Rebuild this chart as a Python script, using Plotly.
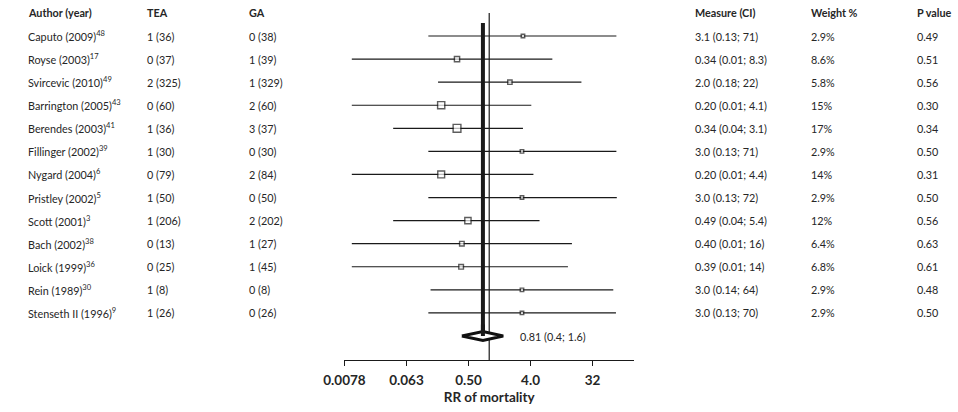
import math
import plotly.graph_objects as go

# ---------------- data ----------------
authors = ["Caputo (2009)", "Royse (2003)", "Svircevic (2010)", "Barrington (2005)",
           "Berendes (2003)", "Fillinger (2002)", "Nygard (2004)", "Pristley (2002)",
           "Scott (2001)", "Bach (2002)", "Loick (1999)", "Rein (1989)", "Stenseth II (1996)"]
refs = ["48", "17", "49", "43", "41", "39", "6", "5", "3", "38", "36", "30", "9"]
tea_events = [1, 0, 2, 0, 1, 1, 0, 1, 1, 0, 0, 1, 1]
tea_total = [36, 37, 325, 60, 36, 30, 79, 50, 206, 13, 25, 8, 26]
ga_events = [0, 1, 1, 2, 3, 0, 2, 0, 2, 1, 1, 0, 0]
ga_total = [38, 39, 329, 60, 37, 30, 84, 50, 202, 27, 45, 8, 26]
rr = [3.1, 0.34, 2.0, 0.20, 0.34, 3.0, 0.20, 3.0, 0.49, 0.40, 0.39, 3.0, 3.0]
ci_lo = [0.13, 0.01, 0.18, 0.01, 0.04, 0.13, 0.01, 0.13, 0.04, 0.01, 0.01, 0.14, 0.13]
ci_hi = [71, 8.3, 22, 4.1, 3.1, 71, 4.4, 72, 5.4, 16, 14, 64, 70]
weights = [2.9, 8.6, 5.8, 15, 17, 2.9, 14, 2.9, 12, 6.4, 6.8, 2.9, 2.9]
p_values = [0.49, 0.51, 0.56, 0.30, 0.34, 0.50, 0.31, 0.50, 0.56, 0.63, 0.61, 0.48, 0.50]
pooled_rr = 0.81
pooled_lo = 0.4
pooled_hi = 1.6
pooled_label = "0.81 (0.4; 1.6)"
tick_values = [2 ** -7, 2 ** -4, 2 ** -1, 2 ** 2, 2 ** 5]
tick_labels = ["0.0078", "0.063", "0.50", "4.0", "32"]
headers = ["Author (year)", "TEA", "GA", "Measure (CI)", "Weight %", "P value"]
x_title = "RR of mortality"

# ---------------- styling ----------------
W, H = 958, 412
FONT = "Lato"
TXT = "#262626"
LINE = "#1a1a1a"
FS = 10.8
n = len(authors)
rows = list(range(n))
diamond_row = n
header_row = -1


def fmt(v):
    if v >= 10:
        return f"{v:.0f}"
    if v >= 1:
        return f"{v:.1f}"
    return f"{v:.2f}"


fig = go.Figure()

# reference line at RR = 1
fig.add_trace(go.Scatter(x=[1, 1], y=[header_row, 14.1], mode="lines",
                         line=dict(color=LINE, width=1.2), hoverinfo="skip"))
# pooled estimate line
fig.add_trace(go.Scatter(x=[pooled_rr, pooled_rr], y=[-0.56, diamond_row], mode="lines",
                         line=dict(color="#1a1a1a", width=4), hoverinfo="skip"))

# confidence intervals
cx, cy = [], []
for i in rows:
    cx += [ci_lo[i], ci_hi[i], None]
    cy += [i, i, None]
fig.add_trace(go.Scatter(x=cx, y=cy, mode="lines", line=dict(color=LINE, width=1.2),
                         hoverinfo="skip"))

# point estimates (square sized by weight)
fig.add_trace(go.Scatter(
    x=rr, y=rows, mode="markers",
    marker=dict(symbol="square", color="white",
                size=[2.6 + 0.305 * w for w in weights],
                line=dict(color=LINE, width=1.4)),
    hoverinfo="skip"))

# pooled diamond
h = 0.19
fig.add_trace(go.Scatter(
    x=[pooled_lo, pooled_rr, pooled_hi, pooled_rr, pooled_lo],
    y=[diamond_row, diamond_row - h, diamond_row, diamond_row + h, diamond_row],
    mode="lines", fill="toself", fillcolor="white",
    line=dict(color="#111111", width=3), hoverinfo="skip"))

# pooled estimate line redrawn on top of the diamond
fig.add_trace(go.Scatter(x=[pooled_rr, pooled_rr], y=[diamond_row - 0.5, diamond_row], mode="lines",
                         line=dict(color="#1a1a1a", width=4), hoverinfo="skip"))

col_x = [6, 128, 232, 688, 807, 915]
annotations = []


def add_text(px, row, text, bold=False, size=FS):
    annotations.append(dict(
        x=px / W, xref="paper", y=row, yref="y", text=text, showarrow=False,
        xanchor="left", yanchor="middle", borderpad=0,
        font=dict(family=FONT, size=size, color=TXT,
                  weight="bold" if bold else "normal")))


for c, htxt in enumerate(headers):
    add_text(col_x[c], header_row, htxt, bold=True)

for i in rows:
    add_text(col_x[0], i, f"{authors[i]}<sup>{refs[i]}</sup>")
    add_text(col_x[1], i, f"{tea_events[i]} ({tea_total[i]})")
    add_text(col_x[2], i, f"{ga_events[i]} ({ga_total[i]})")
    add_text(col_x[3], i, f"{fmt(rr[i])} ({fmt(ci_lo[i])}; {fmt(ci_hi[i])})")
    add_text(col_x[4], i, f"{weights[i]:g}%")
    add_text(col_x[5], i, f"{p_values[i]:.2f}")

annotations.append(dict(x=math.log10(pooled_hi), xref="x", xshift=16, y=diamond_row, yref="y",
                        text=pooled_label, showarrow=False, xanchor="left", yanchor="middle",
                        borderpad=0, font=dict(family=FONT, size=FS, color=TXT)))

x0, x1 = 330.7, 626.7
fig.update_layout(
    width=W, height=H, margin=dict(l=0, r=0, t=0, b=52),
    paper_bgcolor="white", plot_bgcolor="white", showlegend=False,
    font=dict(family=FONT, color=TXT),
    annotations=annotations,
    xaxis=dict(type="log", domain=[x0 / W, x1 / W],
               range=[math.log10(2 ** -7), math.log10(2 ** 7)],
               tickvals=tick_values, ticktext=tick_labels,
               showline=True, linecolor=LINE, linewidth=1.2,
               ticks="outside", ticklen=5, tickwidth=1.2, tickcolor=LINE,
               ticklabelstandoff=3,
               showgrid=False, zeroline=False,
               tickfont=dict(family=FONT, size=13.5, color=TXT, weight="bold"),
               title=dict(text=x_title, standoff=5,
                          font=dict(family=FONT, size=13.5, color=TXT, weight="bold"))),
    yaxis=dict(range=[14.04, -1.56], visible=False, showgrid=False, zeroline=False),
)

fig.write_html(
    "out.html",
    config={"displayModeBar": False, "staticPlot": True},
    post_script="document.body.style.margin='0';document.body.style.overflow='hidden';",
)
